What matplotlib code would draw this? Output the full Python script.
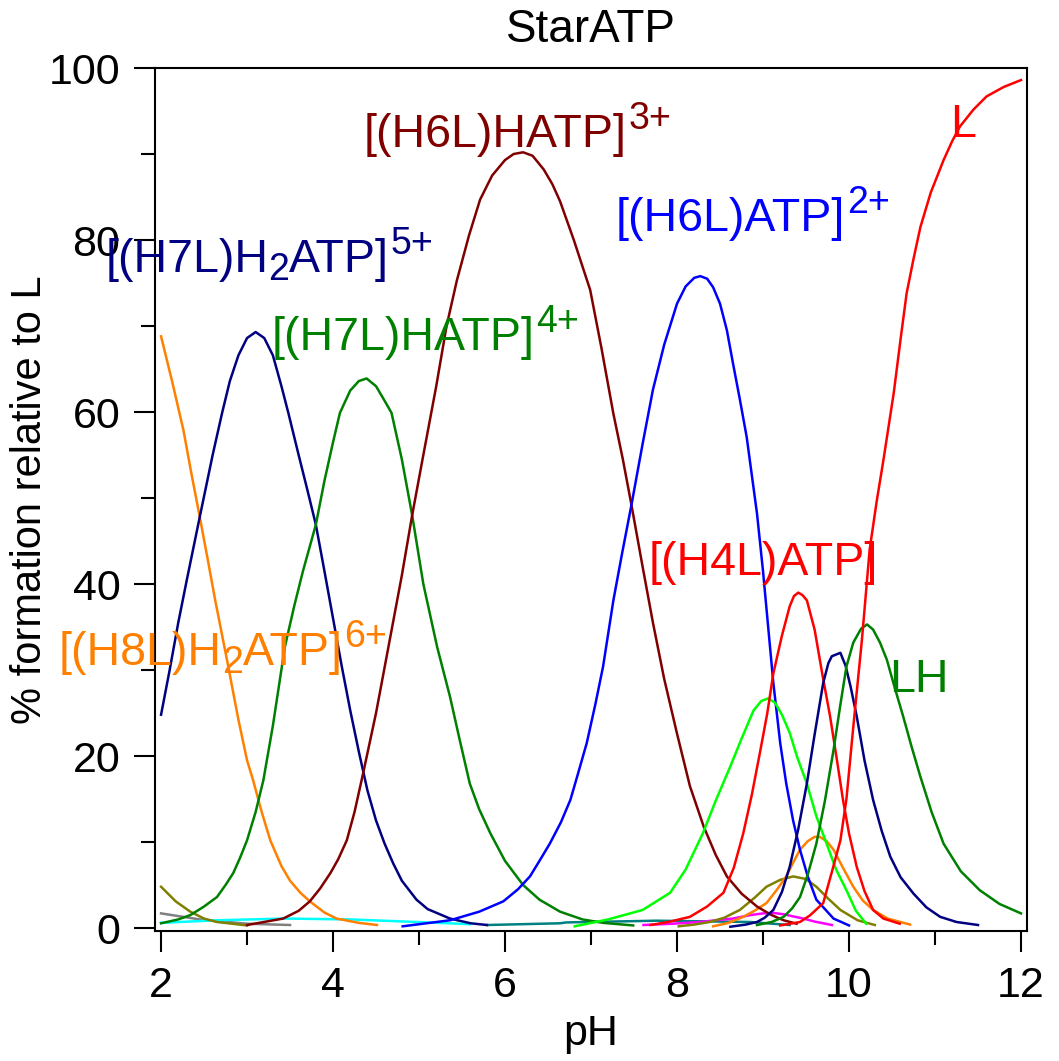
import matplotlib
matplotlib.use("Agg")
import matplotlib.pyplot as plt
from matplotlib.ticker import MultipleLocator

plt.rcParams['font.family'] = ['Liberation Sans', 'DejaVu Sans']

# species curves: (pH, % formation)
h8l_h2atp_ph = [2.0, 2.13, 2.26, 2.35, 2.45, 2.54, 2.63, 2.77, 2.9, 3.0, 3.07, 3.17, 3.27, 3.4,
                3.5, 3.62, 3.73, 3.9, 4.04, 4.3, 4.51]
h8l_h2atp = [68.8, 63.5, 57.9, 53.0, 47.8, 43.0, 38.1, 31.0, 24.2, 19.5, 17.2, 13.5, 10.2, 7.2,
             5.5, 4.1, 3.1, 1.8, 1.1, 0.6, 0.35]

h7l_h2atp_ph = [2.0, 2.1, 2.2, 2.3, 2.45, 2.6, 2.71, 2.8, 2.9, 3.0, 3.1, 3.2, 3.3, 3.4, 3.48,
                3.6, 3.7, 3.8, 3.9, 4.0, 4.1, 4.2, 4.3, 4.4, 4.5, 4.6, 4.7, 4.8, 4.97, 5.1,
                5.36, 5.6, 5.79]
h7l_h2atp = [24.8, 30.0, 35.5, 40.5, 47.8, 55.0, 59.9, 63.6, 66.6, 68.6, 69.3, 68.6, 66.6, 63.0,
             59.9, 55.0, 51.0, 46.9, 41.5, 36.0, 30.5, 25.3, 20.5, 16.0, 12.5, 9.8, 7.5, 5.5,
             3.3, 2.2, 1.1, 0.55, 0.35]

h7l_hatp_ph = [2.0, 2.2, 2.34, 2.5, 2.65, 2.75, 2.84, 2.92, 3.0, 3.1, 3.19, 3.3, 3.44, 3.55,
               3.65, 3.8, 3.9, 4.0, 4.08, 4.2, 4.3, 4.39, 4.5, 4.6, 4.68, 4.8, 4.92, 5.05,
               5.21, 5.36, 5.47, 5.59, 5.7, 5.83, 6.0, 6.21, 6.4, 6.64, 6.9, 7.14, 7.49]
h7l_hatp = [0.55, 1.0, 1.5, 2.5, 3.6, 5.0, 6.4, 8.2, 10.2, 13.5, 17.2, 23.5, 32.7, 37.5,
            41.5, 46.9, 52.0, 56.5, 59.9, 62.5, 63.6, 63.9, 63.0, 61.3, 59.9, 54.5, 48.0, 40.0,
            32.7, 26.9, 22.0, 16.8, 13.8, 11.0, 7.8, 5.0, 3.3, 1.9, 1.0, 0.6, 0.3]

h6l_hatp_ph = [3.0, 3.42, 3.6, 3.73, 3.85, 3.97, 4.06, 4.16, 4.25, 4.35, 4.5, 4.65, 4.8, 4.92,
               5.05, 5.2, 5.32, 5.44, 5.58, 5.71, 5.85, 6.0, 6.1, 6.21, 6.32, 6.45, 6.55,
               6.64, 6.8, 6.99, 7.12, 7.26, 7.37, 7.47, 7.6, 7.72, 7.85, 8.0, 8.15, 8.31,
               8.45, 8.58, 8.75, 8.93, 9.1, 9.24, 9.39]
h6l_hatp = [0.35, 1.1, 2.0, 3.1, 4.6, 6.4, 8.0, 10.2, 13.5, 18.0, 25.0, 33.0, 41.0, 48.0,
            55.0, 63.0, 70.0, 75.3, 80.5, 84.7, 87.5, 89.3, 90.0, 90.2, 89.8, 88.2, 86.5,
            84.5, 80.0, 74.2, 67.5, 59.8, 54.5, 49.2, 42.0, 35.5, 29.0, 22.6, 16.5, 11.8,
            8.5, 6.0, 4.0, 2.5, 1.5, 0.9, 0.5]

h6l_atp_ph = [4.81, 5.36, 5.7, 5.98, 6.15, 6.29, 6.4, 6.52, 6.65, 6.76, 6.85, 6.95, 7.05,
              7.14, 7.26, 7.36, 7.47, 7.6, 7.72, 7.85, 8.0, 8.1, 8.2, 8.27, 8.35, 8.42, 8.5,
              8.58, 8.65, 8.73, 8.81, 8.93, 9.0, 9.12, 9.2, 9.27, 9.35, 9.43, 9.52, 9.62,
              9.82, 10.0]
h6l_atp = [0.2, 0.9, 1.9, 3.1, 4.5, 6.0, 7.8, 9.8, 12.3, 14.9, 18.0, 21.5, 26.0,
           30.4, 38.1, 43.5, 49.2, 56.3, 62.6, 67.8, 72.6, 74.6, 75.6, 75.8, 75.5, 74.5, 72.6,
           69.5, 65.7, 61.5, 57.1, 48.2, 41.5, 28.5, 21.5, 16.8, 12.5, 9.1, 6.0, 3.3,
           1.1, 0.3]

lime_ph = [6.81, 7.2, 7.6, 7.92, 8.1, 8.3, 8.45, 8.62, 8.75, 8.89, 8.98, 9.06, 9.14, 9.22,
           9.31, 9.4, 9.51, 9.62, 9.74, 9.85, 9.97, 10.08, 10.2]
lime = [0.2, 1.0, 2.1, 4.1, 6.8, 11.0, 14.8, 18.8, 22.0, 25.3, 26.4, 26.7, 26.2, 24.8,
        22.7, 19.8, 16.8, 13.0, 9.8, 6.8, 4.4, 2.0, 0.5]

h4l_atp_ph = [7.69, 7.9, 8.15, 8.35, 8.54, 8.66, 8.77, 8.87, 8.97, 9.05, 9.12, 9.22, 9.31,
              9.36, 9.41, 9.46, 9.51, 9.6, 9.69, 9.78, 9.86, 9.93, 10.0, 10.09, 10.18, 10.28,
              10.4, 10.59]
h4l_atp = [0.35, 0.7, 1.3, 2.5, 4.1, 7.0, 11.0, 15.5, 20.7, 25.0, 29.6, 34.0, 37.4,
           38.6, 39.0, 38.7, 38.1, 34.7, 29.5, 24.6, 19.5, 14.9, 11.0, 7.1, 4.3, 2.1,
           1.1, 0.5]

l_ph = [9.2, 9.43, 9.55, 9.7, 9.8, 9.9, 9.97, 10.05, 10.15, 10.24, 10.32, 10.4, 10.52, 10.6,
        10.67, 10.75, 10.83, 10.95, 11.1, 11.2, 11.29, 11.45, 11.6, 11.8, 12.0]
l_free = [0.3, 0.7, 1.5, 2.9, 6.5, 10.2, 15.0, 23.4, 33.5, 44.0, 49.5, 54.4, 62.2, 68.5,
          73.8, 77.8, 81.5, 85.5, 89.3, 91.5, 93.2, 95.2, 96.7, 97.8, 98.6]

navy2_ph = [8.62, 8.8, 8.93, 9.02, 9.12, 9.22, 9.31, 9.41, 9.51, 9.6, 9.7, 9.76, 9.8, 9.9,
            9.96, 10.02, 10.09, 10.18, 10.28, 10.38, 10.48, 10.6, 10.75, 10.9, 11.06, 11.25,
            11.5]
navy2 = [0.15, 0.4, 0.7, 1.2, 2.1, 4.2, 7.1, 11.5, 16.8, 22.5, 28.5, 30.8, 31.6, 32.0,
         30.5, 28.0, 24.6, 19.5, 14.9, 11.3, 8.3, 5.9, 4.0, 2.4, 1.3, 0.7, 0.35]

lh_ph = [8.93, 9.1, 9.24, 9.34, 9.43, 9.52, 9.62, 9.72, 9.82, 9.9, 9.97, 10.05, 10.14, 10.21,
         10.28, 10.36, 10.44, 10.53, 10.63, 10.73, 10.83, 10.96, 11.1, 11.3, 11.52, 11.75, 12.0]
lh = [0.35, 0.7, 1.3, 2.3, 3.6, 6.2, 9.8, 14.8, 20.7, 26.0, 30.4, 33.2, 34.8, 35.3,
      34.7, 33.2, 31.2, 28.0, 24.6, 21.0, 17.6, 13.5, 9.8, 6.6, 4.4, 2.8, 1.7]

orange2_ph = [8.42, 8.6, 8.77, 8.9, 9.04, 9.15, 9.27, 9.35, 9.43, 9.52, 9.6, 9.66, 9.74, 9.82,
              9.93, 10.05, 10.16, 10.28, 10.45, 10.71]
orange2 = [0.2, 0.6, 1.3, 2.0, 2.9, 4.3, 6.0, 7.6, 9.1, 10.1, 10.6, 10.6, 10.1, 9.1,
           7.0, 4.8, 3.2, 2.1, 1.1, 0.4]

olive_lo_ph = [2.0, 2.17, 2.34, 2.5, 2.65, 3.0]
olive_lo = [4.8, 3.1, 1.9, 1.1, 0.7, 0.3]
olive_hi_ph = [8.02, 8.2, 8.38, 8.55, 8.73, 8.9, 9.04, 9.2, 9.35, 9.5, 9.62, 9.76, 9.9, 10.1,
               10.3]
olive_hi = [0.2, 0.4, 0.7, 1.2, 2.1, 3.5, 4.8, 5.6, 6.0, 5.7, 4.8, 3.4, 2.1, 0.9, 0.35]

magenta_ph = [7.61, 7.95, 8.27, 8.45, 8.65, 8.85, 9.0, 9.12, 9.24, 9.35, 9.47, 9.6, 9.8]
magenta = [0.35, 0.5, 0.7, 0.9, 1.1, 1.5, 1.7, 1.75, 1.6, 1.35, 1.1, 0.75, 0.35]

teal_ph = [5.79, 6.64, 6.71, 7.76, 8.85, 9.31]
teal = [0.35, 0.55, 0.65, 0.85, 0.7, 0.35]

cyan_ph = [2.0, 2.65, 3.42, 4.2, 4.97, 5.59]
cyan = [0.6, 0.9, 1.1, 1.0, 0.7, 0.45]

gray_ph = [2.0, 2.45, 3.0, 3.5]
gray = [1.7, 1.0, 0.5, 0.35]

curves = [
    (gray_ph, gray, '#808080'),
    (cyan_ph, cyan, '#00FFFF'),
    (teal_ph, teal, '#008080'),
    (magenta_ph, magenta, '#FF00FF'),
    (olive_lo_ph, olive_lo, '#808000'),
    (olive_hi_ph, olive_hi, '#808000'),
    (orange2_ph, orange2, '#FF8000'),
    (h8l_h2atp_ph, h8l_h2atp, '#FF8000'),
    (h7l_h2atp_ph, h7l_h2atp, '#000080'),
    (h7l_hatp_ph, h7l_hatp, '#008000'),
    (h6l_hatp_ph, h6l_hatp, '#800000'),
    (h6l_atp_ph, h6l_atp, '#0000FF'),
    (lime_ph, lime, '#00FF00'),
    (h4l_atp_ph, h4l_atp, '#FF0000'),
    (navy2_ph, navy2, '#000080'),
    (lh_ph, lh, '#008000'),
    (l_ph, l_free, '#FF0000'),
]

# species labels: pieces (text, kind), pH of left edge, baseline %, colour
labels = [
    ([('[(H6L)HATP]', 'n'), ('3+', 'sup')], 4.36, 90.8, '#800000'),
    ([('[(H6L)ATP]', 'n'), ('2+', 'sup')], 7.29, 81.0, '#0000FF'),
    ([('[(H7L)H', 'n'), ('2', 'sub'), ('ATP]', 'n'), ('5+', 'sup')], 1.35, 76.3, '#000080'),
    ([('[(H7L)HATP]', 'n'), ('4+', 'sup')], 3.29, 67.2, '#008000'),
    ([('[(H8L)H', 'n'), ('2', 'sub'), ('ATP]', 'n'), ('6+', 'sup')], 0.81, 30.6, '#FF8000'),
    ([('[(H4L)ATP]', 'n')], 7.67, 41.0, '#FF0000'),
    ([('LH', 'n')], 10.47, 27.5, '#008000'),
    ([('L', 'n')], 11.18, 92.0, '#FF0000'),
]

fig = plt.figure(figsize=(10.59, 10.61), dpi=100)
ax = fig.add_axes([0.1464, 0.1225, 0.8234, 0.8134])

for xs, ys, c in curves:
    ax.plot(xs, ys, color=c, lw=1.8)

main_fs = 33.5
small_fs = 27
shift = {'n': 0, 'sup': 13, 'sub': -6}
for parts, x, y, c in labels:
    prev = ax.text(x, y, parts[0][0], color=c, fontsize=main_fs, ha='left', va='baseline',
                   clip_on=False)
    for txt, kind in parts[1:]:
        fs = main_fs if kind == 'n' else small_fs
        prev = ax.annotate(txt, xy=(1, y), xycoords=(prev, 'data'),
                           xytext=(1 if kind == 'sup' else 0, shift[kind]),
                           textcoords='offset points', color=c, fontsize=fs,
                           ha='left', va='baseline', annotation_clip=False)

ax.set_xlim(1.93, 12.07)
ax.set_ylim(-0.35, 100)
ax.xaxis.set_major_locator(MultipleLocator(2))
ax.xaxis.set_minor_locator(MultipleLocator(1))
ax.yaxis.set_major_locator(MultipleLocator(20))
ax.yaxis.set_minor_locator(MultipleLocator(10))
ax.tick_params(which='major', length=15, width=1.5, labelsize=31, pad=10, direction='out')
ax.tick_params(which='minor', length=10, width=1.5, direction='out')
for s in ax.spines.values():
    s.set_linewidth(1.5)

ax.set_xlabel('pH', fontsize=31, labelpad=6)
ax.set_ylabel('% formation relative to L', fontsize=30)
ax.yaxis.set_label_coords(-0.12, 0.5)
ax.set_title('StarATP', fontsize=33, pad=19)

fig.savefig('out.png', dpi=100)
